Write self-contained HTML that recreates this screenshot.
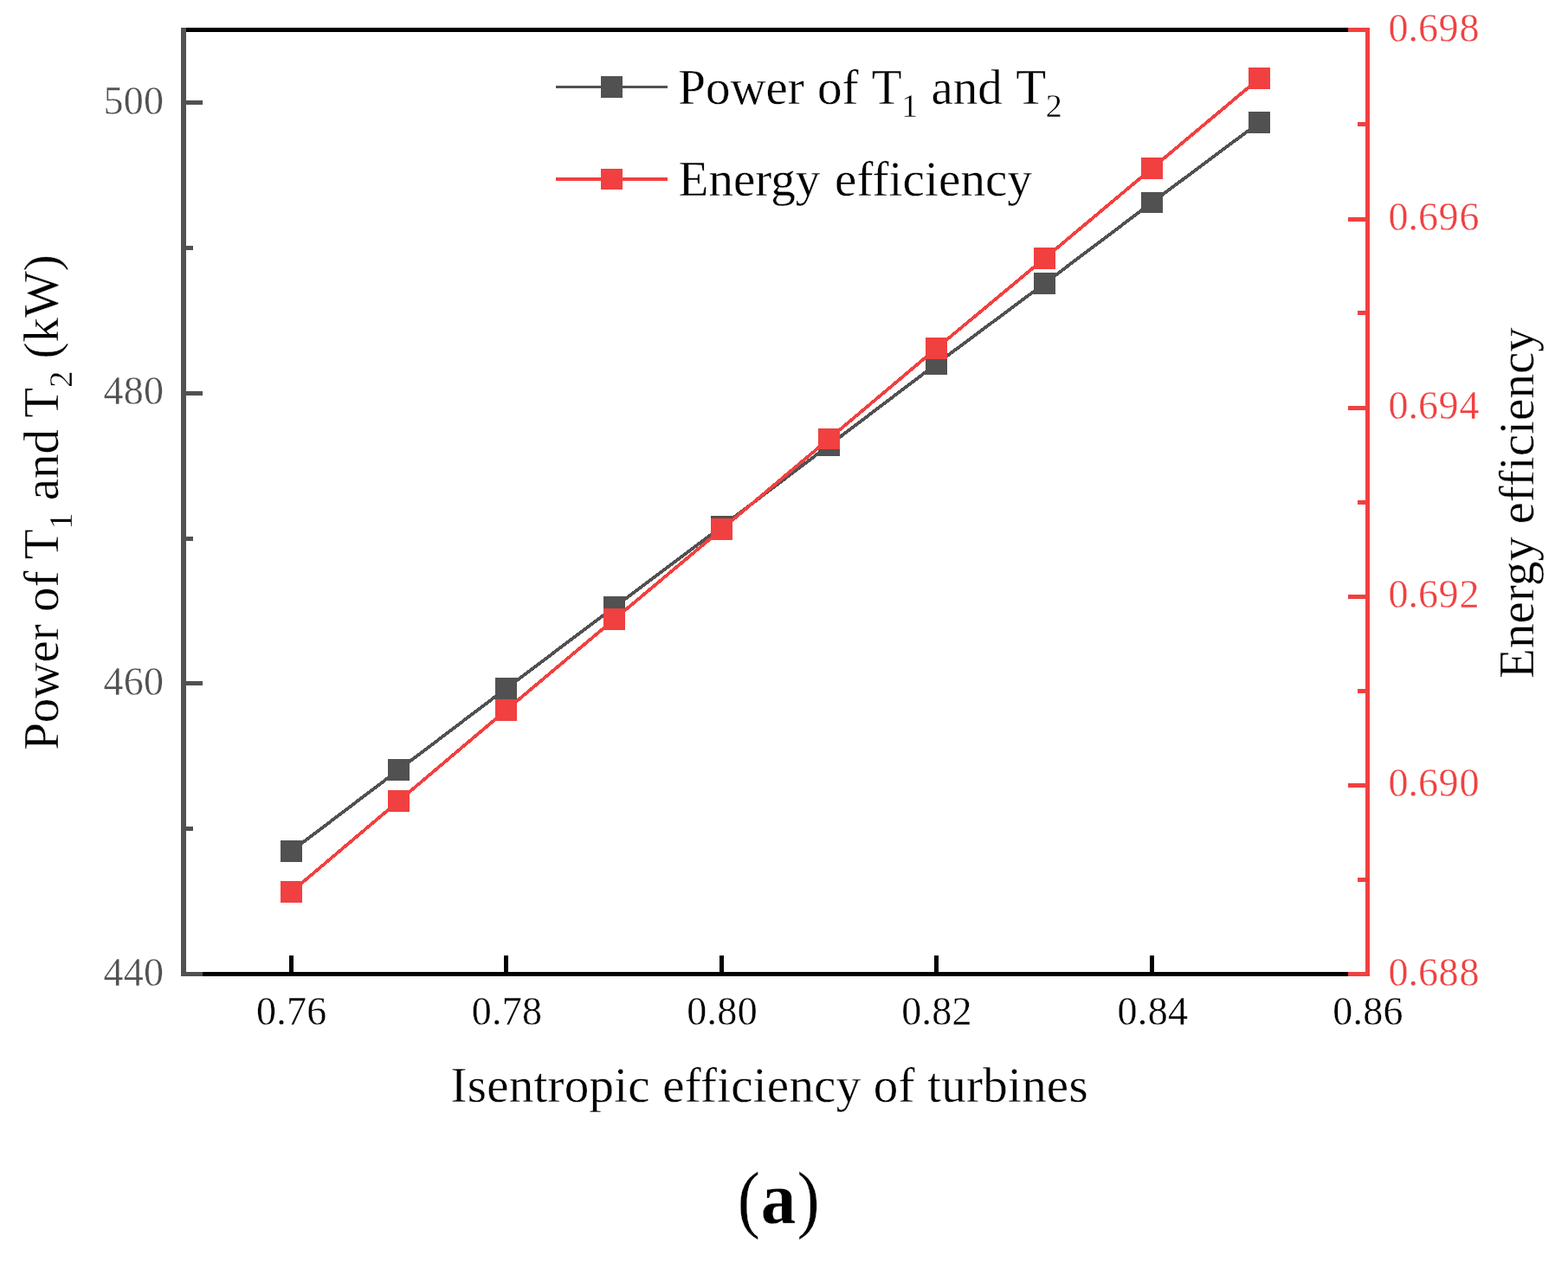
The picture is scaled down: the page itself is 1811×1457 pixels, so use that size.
<!DOCTYPE html>
<html lang="en"><head><meta charset="utf-8"><title>Figure (a)</title>
<style>html,body{margin:0;padding:0;background:#fff;}body{width:1811px;height:1457px;overflow:hidden;}svg{display:block;}text{font-family:"Liberation Serif",serif;stroke:#fff;stroke-width:0.35px;}.tk{font-size:46px;}.tt{font-size:57px;}.sb{font-size:38px;}</style></head><body>
<svg width="1811" height="1457" viewBox="0 0 1811 1457">
<rect x="0" y="0" width="1811" height="1457" fill="#ffffff"/>
<g shape-rendering="crispEdges" fill="#000000">
<rect x="209" y="32" width="1373" height="5"/>
<rect x="209" y="1123" width="1373" height="5"/>
<rect x="334" y="1104" width="5" height="19"/>
<rect x="582" y="1104" width="5" height="19"/>
<rect x="831" y="1104" width="5" height="19"/>
<rect x="1079" y="1104" width="5" height="19"/>
<rect x="1328" y="1104" width="5" height="19"/>
<rect x="1577" y="1104" width="5" height="19"/>
</g>
<polyline points="336.5,983.5 460.5,889.5 584.5,795.5 709.5,701.5 833.5,608.5 957.5,514.5 1081.5,420.5 1206.5,327.5 1330.5,234.0 1454.5,141.5" fill="none" stroke="#515151" stroke-width="3.8" stroke-linejoin="round" shape-rendering="crispEdges"/>
<g shape-rendering="crispEdges" fill="#515151">
<rect x="324" y="971" width="25" height="25"/>
<rect x="448" y="877" width="25" height="25"/>
<rect x="572" y="783" width="25" height="25"/>
<rect x="697" y="689" width="25" height="25"/>
<rect x="821" y="596" width="25" height="25"/>
<rect x="945" y="502" width="25" height="25"/>
<rect x="1069" y="408" width="25" height="25"/>
<rect x="1194" y="315" width="25" height="25"/>
<rect x="1318" y="222" width="25" height="24"/>
<rect x="1442" y="129" width="25" height="25"/>
</g>
<polyline points="336.5,1030.5 460.5,925.5 584.5,820.5 709.5,715.5 833.5,611.5 957.5,507.0 1081.5,402.5 1206.5,298.5 1330.5,194.5 1454.5,90.5" fill="none" stroke="#F14040" stroke-width="3.8" stroke-linejoin="round" shape-rendering="crispEdges"/>
<g shape-rendering="crispEdges" fill="#F14040">
<rect x="324" y="1018" width="25" height="25"/>
<rect x="448" y="913" width="25" height="25"/>
<rect x="572" y="808" width="25" height="25"/>
<rect x="697" y="703" width="25" height="25"/>
<rect x="821" y="599" width="25" height="25"/>
<rect x="945" y="495" width="25" height="24"/>
<rect x="1069" y="390" width="25" height="25"/>
<rect x="1194" y="286" width="25" height="25"/>
<rect x="1318" y="182" width="25" height="25"/>
<rect x="1442" y="78" width="25" height="25"/>
</g>
<g shape-rendering="crispEdges" fill="#515151">
<rect x="209" y="32" width="6" height="1096"/>
<rect x="215" y="1123" width="19" height="5"/>
<rect x="215" y="955" width="8" height="5"/>
<rect x="215" y="787" width="19" height="5"/>
<rect x="215" y="620" width="8" height="5"/>
<rect x="215" y="452" width="19" height="5"/>
<rect x="215" y="284" width="8" height="5"/>
<rect x="215" y="116" width="19" height="5"/>
</g>
<g shape-rendering="crispEdges" fill="#F14040">
<rect x="1577" y="32" width="5" height="1096"/>
<rect x="1557" y="1123" width="20" height="5"/>
<rect x="1568" y="1014" width="9" height="5"/>
<rect x="1557" y="905" width="20" height="5"/>
<rect x="1568" y="796" width="9" height="5"/>
<rect x="1557" y="687" width="20" height="5"/>
<rect x="1568" y="578" width="9" height="5"/>
<rect x="1557" y="469" width="20" height="5"/>
<rect x="1568" y="359" width="9" height="5"/>
<rect x="1557" y="251" width="20" height="5"/>
<rect x="1568" y="141" width="9" height="5"/>
<rect x="1557" y="32" width="20" height="5"/>
</g>
<g class="tk" fill="#515151" text-anchor="end" style="letter-spacing:0.3px">
<text x="189.4" y="1138.7">440</text>
<text x="189.4" y="803.0">460</text>
<text x="189.4" y="467.3">480</text>
<text x="189.4" y="131.6">500</text>
</g>
<g class="tk" fill="#F14040" text-anchor="start">
<text x="1603.5" y="1138.5">0.6<tspan dx="0.6">8</tspan><tspan dx="0.9">8</tspan></text>
<text x="1603.5" y="920.3">0.6<tspan dx="0.6">9</tspan><tspan dx="0.9">0</tspan></text>
<text x="1603.5" y="702.1">0.6<tspan dx="0.6">9</tspan><tspan dx="0.9">2</tspan></text>
<text x="1603.5" y="483.9">0.6<tspan dx="0.6">9</tspan><tspan dx="0.9">4</tspan></text>
<text x="1603.5" y="265.7">0.6<tspan dx="0.6">9</tspan><tspan dx="0.9">6</tspan></text>
<text x="1603.5" y="47.5">0.6<tspan dx="0.6">9</tspan><tspan dx="0.9">8</tspan></text>
</g>
<g class="tk" fill="#000000" text-anchor="middle" style="letter-spacing:0.3px">
<text x="336.8" y="1184.3">0.76</text>
<text x="585.5" y="1184.3">0.78</text>
<text x="834.1" y="1184.3">0.80</text>
<text x="1082.0" y="1184.3">0.82</text>
<text x="1331.4" y="1184.3">0.84</text>
<text x="1580.0" y="1184.3">0.86</text>
</g>
<g shape-rendering="crispEdges">
<rect x="642" y="99" width="129" height="3" fill="#515151"/>
<rect x="694" y="88" width="25" height="25" fill="#515151"/>
<rect x="642" y="205" width="129" height="4" fill="#F14040"/>
<rect x="694" y="195" width="25" height="24" fill="#F14040"/>
</g>
<text class="tt" x="783.2" y="120.3" fill="#000">Power<tspan dx="1"> of</tspan><tspan dx="2"> T</tspan><tspan class="sb" dy="15" dx="-0.5">1</tspan><tspan dy="-15" dx="1"> and</tspan><tspan dx="2.4"> T</tspan><tspan class="sb" dy="15" dx="-0.3">2</tspan></text>
<text class="tt" x="783.6" y="226.4" fill="#000">Energy<tspan dx="2.4" style="letter-spacing:0.14px"> efficiency</tspan></text>
<text class="tt" x="520.5" y="1272.9" fill="#000" style="letter-spacing:0.234px">Isentropic efficiency of turbines</text>
<text class="tt" transform="translate(67,580.6) rotate(-90)" fill="#000" text-anchor="middle">Power of T<tspan class="sb" dy="16">1</tspan><tspan dy="-16"> and T</tspan><tspan class="sb" dy="16">2</tspan><tspan dy="-16"> (kW)</tspan></text>
<text class="tt" transform="translate(1771,581) rotate(-90)" fill="#000" text-anchor="middle" style="letter-spacing:0.07px">Energy efficiency</text>
<text transform="translate(851.7,1414) scale(0.92,1)" fill="#000" style="font-size:85.7px">(</text>
<text transform="translate(878.7,1413.1) scale(0.965,1)" fill="#000" style="font-weight:bold;font-size:84px">a</text>
<text transform="translate(920.5,1414) scale(0.92,1)" fill="#000" style="font-size:85.7px">)</text>
</svg>
</body></html>
